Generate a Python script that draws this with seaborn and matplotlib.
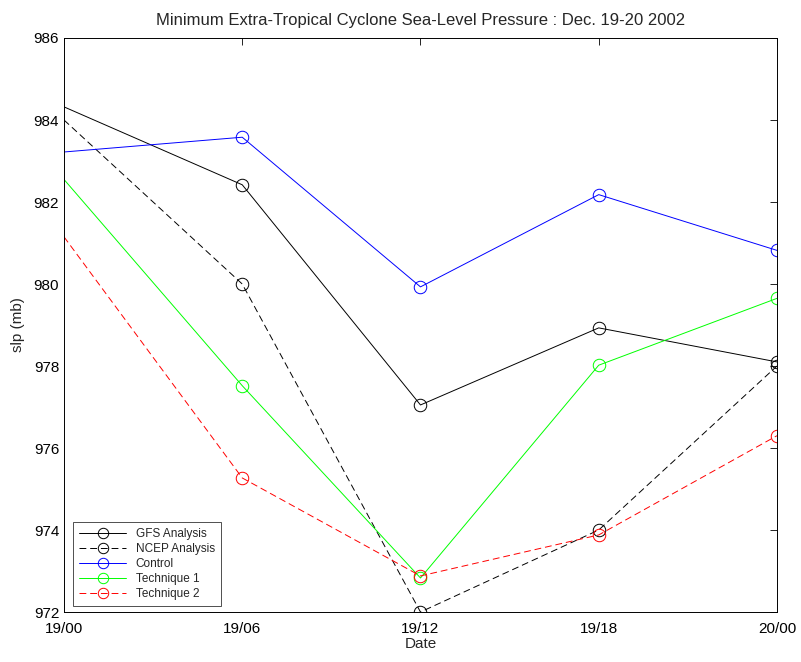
import numpy as np
import pandas as pd
import matplotlib
matplotlib.use("Agg")
import matplotlib.pyplot as plt
import seaborn as sns

hours = [0, 6, 12, 18, 24]
tick_labels = ["19/00", "19/06", "19/12", "19/18", "20/00"]

gfs = [984.32, 982.42, 977.05, 978.93, 978.10]
ncep = [984.0, 980.0, 972.0, 974.0, 978.0]
control = [983.22, 983.58, 979.93, 982.18, 980.82]
tech1 = [982.55, 977.52, 972.83, 978.02, 979.65]
tech2 = [981.15, 975.27, 972.88, 973.88, 976.30]

sns.set_style("white")
plt.rcParams["font.family"] = ["Liberation Sans", "DejaVu Sans"]

fig = plt.figure(figsize=(8.01, 6.62), dpi=100)
ax = fig.add_axes([0.0799, 0.0755, 0.8901, 0.8671])

series = [
    ("GFS Analysis", gfs, "black", "-"),
    ("NCEP Analysis", ncep, "black", (0, (7, 4))),
    ("Control", control, "#0000ff", "-"),
    ("Technique 1", tech1, "#00ff00", "-"),
    ("Technique 2", tech2, "#ff0000", (0, (7, 4))),
]

for name, vals, col, ls in series:
    sns.lineplot(x=hours, y=vals, ax=ax, color=col, linestyle=ls, lw=0.7,
                 marker="o", markersize=9, markerfacecolor="none",
                 markeredgecolor=col, markeredgewidth=0.7,
                 markevery=[1, 2, 3, 4], label=name)

ax.set_xlim(0, 24)
ax.set_ylim(972, 986)
ax.set_xticks(hours)
ax.set_xticklabels(tick_labels)
ax.set_yticks(np.arange(972, 987, 2))
ax.tick_params(direction="in", length=5, width=0.6, labelsize=11,
               top=True, right=True, colors="black")
ax.tick_params(axis="x", pad=7)
for s in ax.spines.values():
    s.set_linewidth(0.7)
    s.set_color("black")

ax.set_xlabel("Date", fontsize=11, labelpad=1)
ax.set_ylabel("slp (mb)", fontsize=11, labelpad=6)
ax.set_title("Minimum Extra-Tropical Cyclone Sea-Level Pressure : Dec. 19-20 2002",
             fontsize=12, pad=9)

leg = ax.legend(loc="lower left", fontsize=8.5, handlelength=4.0, numpoints=1,
                frameon=True, fancybox=False, edgecolor="black",
                bbox_to_anchor=(0.013, 0.011), borderaxespad=0.0,
                labelspacing=0.25, borderpad=0.5)
leg.get_frame().set_linewidth(0.6)
for ln in leg.get_lines():
    ln.set_markevery([1])
    ln.set_markersize(7.5)

fig.savefig("out.png", dpi=100)
